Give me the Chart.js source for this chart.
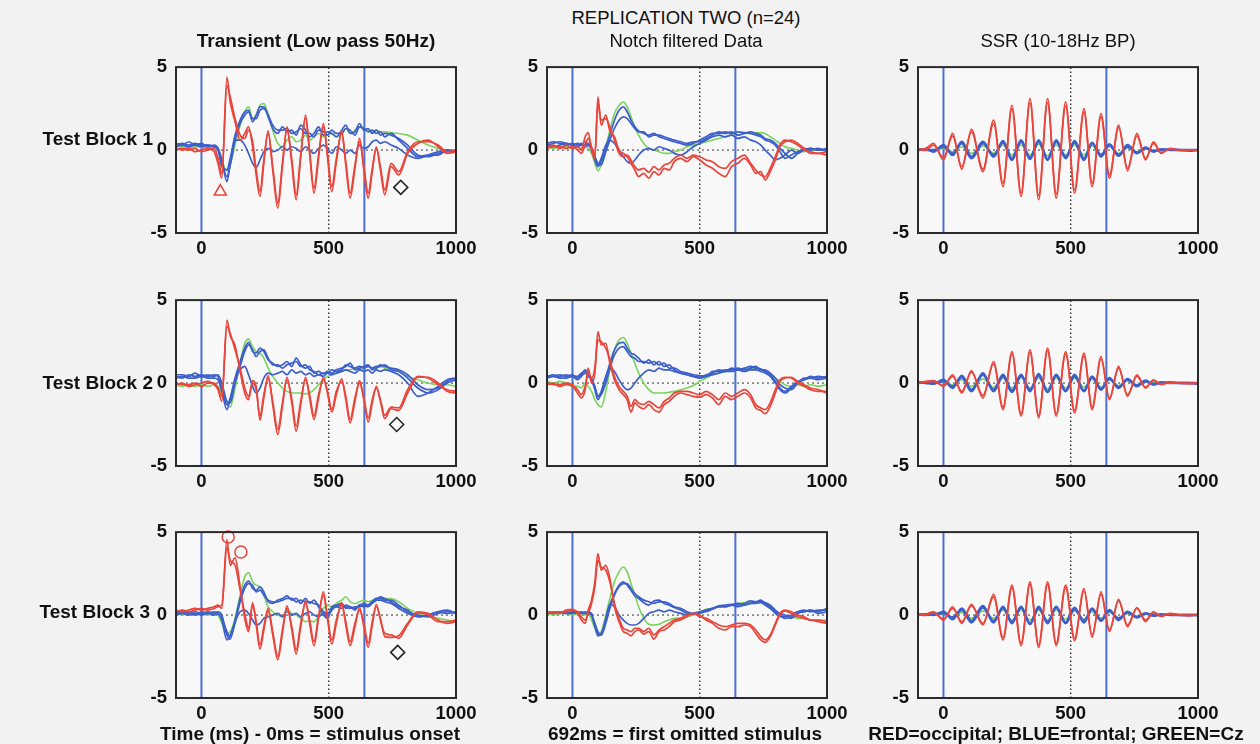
<!DOCTYPE html>
<html>
<head>
<meta charset="utf-8">
<script src="https://cdn.jsdelivr.net/npm/chart.js@4.4.1/dist/chart.umd.min.js"></script>
<style>
  body { margin: 0; background: #f2f2f2; width: 1260px; height: 744px; position: relative; overflow: hidden;
         font-family: "Liberation Sans", Arial, sans-serif; color: #111; }
  .lbl { position: absolute; white-space: nowrap; font-size: 19px; line-height: 19px; z-index: 2; }
  .t { font-size: 18.5px; }
  .b { font-weight: bold; }
  .c { transform: translateX(-50%); }
  canvas { position: absolute; z-index: 1; }
</style>
</head>
<body>
<div class="lbl c t" style="left:686px;top:8px">REPLICATION TWO (n=24)</div>
<div class="lbl c b" style="left:316px;top:31px">Transient (Low pass 50Hz)</div>
<div class="lbl c t" style="left:686px;top:31px">Notch filtered Data</div>
<div class="lbl c t" style="left:1058px;top:31px">SSR (10-18Hz BP)</div>
<div class="lbl b" style="right:1107px;top:129px">Test Block 1</div>
<div class="lbl b" style="right:1107px;top:373px">Test Block 2</div>
<div class="lbl b" style="right:1110px;top:602px">Test Block 3</div>
<div class="lbl c b" style="left:310px;top:724px">Time (ms) - 0ms = stimulus onset</div>
<div class="lbl c b" style="left:685px;top:724px">692ms = first omitted stimulus</div>
<div class="lbl c b" style="left:1056px;top:724px">RED=occipital; BLUE=frontal; GREEN=Cz</div>

<script>
// axes
const xRange = [-100, 1000];
const yRange = [-5, 5];
const xTicks = [0, 500, 1000];
const yTicks = [-5, 0, 5];
const stimOnsets = [0, 640];
const midMark = 500;

// sample times (ms) per column
const tTrans = [-100,-75,-50,-25,0,25,50,65,80,100,
  113,132,152,170,185,201,215,230,245,262,
  280,300,318,336,355,372,390,409,425,442,
  460,479,495,512,530,551,567,584,603,621,
  638,655,671,687,703,720,745,775,810,850,
  890,930,965,1000];
const tNotch = [-100,-75,-50,-25,0,20,35,50,62,75,
  88,100,113,131,147,165,183,200,215,230,
  245,260,280,300,320,340,360,380,400,425,
  450,475,500,525,550,575,600,625,650,675,
  700,720,740,757,777,797,815,835,860,885,
  910,935,965,1000];
const tSsr = [-100,-70,-39,0,36,72,110,155,197,234,
  269,305,340,374,409,443,480,515,552,584,
  619,652,688,723,760,794,825,855,890,930,
  965,1000];

// ---- Test Block 1, transient
const b1TrRedA = [0.1,0.0,0.1,-0.1,0.0,0.1,-0.1,-0.8,-1.7,4.4,
  2.9,1.7,0.6,1.0,1.4,0.2,-1.5,-2.8,-0.8,1.15,
  -1.2,-3.5,-1.0,1.4,-0.8,-3.0,-0.4,2.1,-0.2,-2.6,
  -0.5,1.6,-0.4,-2.5,-0.7,1.15,-0.9,-2.9,-1.1,0.7,
  -1.2,-2.9,-1.3,0.2,-1.2,-2.7,-1.0,-1.5,-0.2,0.4,
  0.6,0.2,-0.2,-0.1];
const b1TrRedB = [0.0,0.1,0.0,0.1,-0.1,0.0,0.1,-0.5,-1.4,3.9,
  3.2,1.9,0.9,0.7,1.2,0.5,-1.2,-2.5,-0.6,1.0,
  -1.0,-3.2,-0.8,1.2,-0.6,-2.7,-0.3,1.9,-0.1,-2.3,
  -0.3,1.4,-0.2,-2.2,-0.5,1.0,-0.7,-2.6,-0.9,0.5,
  -1.0,-2.6,-1.1,0.1,-1.0,-2.4,-0.8,-1.3,-0.1,0.5,
  0.5,0.3,-0.1,0.0];
const b1TrBlueA = [0.3,0.4,0.3,0.4,0.3,0.3,0.2,0.0,-1.0,-1.2,
  -0.5,0.9,1.8,2.3,2.4,1.7,2.1,2.6,2.6,2.0,
  1.3,1.0,1.4,1.1,1.2,0.9,1.5,1.2,0.8,1.0,
  1.4,0.9,1.1,1.0,0.8,1.2,1.5,1.0,1.1,1.6,
  1.2,1.3,1.0,1.2,0.9,1.0,0.9,0.7,0.3,-0.3,
  -0.4,-0.2,-0.1,0.0];
const b1TrBlueB = [0.4,0.3,0.5,0.3,0.4,0.2,0.3,0.1,-0.7,-1.6,
  -0.9,0.6,1.6,2.1,2.3,1.9,1.9,2.4,2.5,2.1,
  1.5,1.2,1.2,1.3,1.0,1.1,1.3,1.0,1.0,0.8,
  1.2,1.1,0.9,1.2,1.0,1.0,1.3,1.2,0.9,1.4,
  1.3,1.1,1.2,1.0,1.1,0.8,1.0,0.6,0.1,-0.4,
  -0.3,-0.3,0.0,-0.1];
const b1TrBlueC = [0.2,0.3,0.2,0.3,0.2,0.3,0.2,0.1,-0.6,-1.9,
  -0.8,0.6,0.6,0.3,-0.2,-0.8,-1.05,-0.6,-0.1,0.1,
  -0.1,0.0,0.2,0.0,0.2,0.1,-0.1,0.2,0.0,-0.2,
  0.1,0.3,0.1,-0.2,0.2,0.0,-0.2,0.0,-0.2,0.3,
  0.1,0.2,0.5,0.6,0.4,0.5,0.3,0.1,-0.3,-0.5,
  -0.3,-0.1,0.0,-0.1];
const b1TrGreen = [0.2,0.2,0.1,0.2,0.2,0.1,0.2,0.0,-0.6,-1.25,
  -0.9,0.3,1.5,2.3,2.6,1.9,2.1,2.7,2.8,2.2,
  1.2,0.4,0.2,0.6,0.8,0.5,0.6,0.9,0.6,0.8,
  1.0,0.8,0.9,1.0,0.8,1.0,1.3,1.0,1.2,1.4,
  1.3,1.2,1.1,1.2,1.1,1.1,1.05,1.0,0.9,0.6,
  0.3,0.1,0.0,0.0];

// ---- Test Block 2, transient
const b2TrRedA = [-0.1,0.0,-0.2,-0.1,0.0,0.1,-0.1,-0.4,-1.1,3.8,
  2.85,2.25,0.7,-0.6,-1.0,0.15,-0.2,-2.25,-0.9,0.45,
  -1.3,-3.1,-1.4,0.35,-1.2,-2.9,-1.3,0.35,-0.9,-2.2,
  -0.9,0.35,-0.6,-1.75,-0.7,0.25,-1.0,-2.4,-1.1,0.15,
  -1.0,-2.35,-1.2,-0.2,-1.1,-2.15,-1.55,-1.65,-0.6,0.35,
  0.35,0.0,-0.5,-0.6];
const b2TrRedB = [0.0,-0.1,-0.1,0.0,-0.2,0.0,0.0,-0.3,-0.8,3.4,
  3.0,2.0,0.9,-0.3,-0.8,0.0,-0.4,-2.0,-0.7,0.3,
  -1.1,-2.8,-1.2,0.2,-1.0,-2.6,-1.1,0.2,-0.7,-2.0,
  -0.7,0.2,-0.5,-1.6,-0.5,0.1,-0.8,-2.2,-0.9,0.0,
  -0.9,-2.1,-1.0,-0.3,-1.0,-1.95,-1.45,-1.5,-0.4,0.4,
  0.3,-0.1,-0.4,-0.5];
const b2TrBlueA = [0.4,0.3,0.5,0.4,0.5,0.4,0.5,0.4,-0.3,-1.3,
  -1.0,0.3,1.3,2.1,2.45,1.9,1.8,2.1,1.9,1.4,
  1.2,1.0,1.1,1.3,1.0,1.5,1.1,0.9,1.0,0.6,
  0.7,0.55,0.7,0.6,0.8,0.9,1.0,1.2,0.8,0.9,
  1.0,1.1,0.8,0.9,1.1,1.0,0.9,0.8,0.5,-0.1,
  -0.4,-0.3,0.1,0.3];
const b2TrBlueB = [0.5,0.5,0.4,0.6,0.4,0.5,0.4,0.5,0.0,-1.1,
  -1.2,0.0,1.0,1.9,2.3,2.0,1.6,1.9,2.0,1.5,
  1.1,1.1,0.9,1.1,1.2,1.3,1.0,1.1,0.8,0.7,
  0.5,0.6,0.6,0.8,0.7,0.8,1.1,1.0,0.9,1.0,
  0.9,1.0,0.9,1.0,1.0,1.1,0.8,0.7,0.3,-0.3,
  -0.6,-0.4,0.0,0.2];
const b2TrBlueC = [0.3,0.4,0.3,0.3,0.4,0.3,0.3,0.2,-0.5,-1.6,
  -0.9,0.2,0.8,1.0,0.5,-0.2,-0.6,-0.3,0.3,0.6,
  0.5,0.6,0.7,0.5,0.8,0.6,0.7,0.5,0.6,0.4,
  0.5,0.4,0.6,0.5,0.6,0.7,0.8,0.7,0.6,0.8,
  0.7,0.8,0.6,0.8,0.7,0.8,0.7,0.5,0.0,-0.8,
  -0.6,-0.2,0.2,0.3];
const b2TrGreen = [-0.1,-0.2,-0.1,-0.2,-0.1,-0.2,-0.1,-0.2,-0.6,-1.2,
  -1.45,-0.3,1.2,2.4,2.65,2.2,1.9,1.8,1.5,0.9,
  0.4,0.0,-0.3,-0.5,-0.6,-0.6,-0.6,-0.65,-0.6,-0.4,
  -0.1,0.2,0.4,0.5,0.6,0.7,0.8,0.8,0.9,0.8,
  0.9,1.0,0.9,0.9,1.0,0.9,0.8,0.7,0.4,0.2,
  0.0,-0.1,-0.1,-0.2];

// ---- Test Block 3, transient
const b3TrRedA = [0.3,0.2,0.3,0.4,0.3,0.4,0.5,0.6,0.4,4.55,
  3.0,3.45,1.7,-0.2,-1.0,0.75,-0.6,-2.05,-0.9,0.25,
  -1.2,-2.7,-1.1,0.55,-0.9,-2.35,-0.7,0.85,-0.5,-1.85,
  -0.2,1.4,-0.2,-1.75,-0.5,0.75,-0.6,-1.85,-0.7,0.45,
  -0.7,-1.95,-0.6,0.65,-0.3,-1.1,-1.2,-1.4,-0.6,0.15,
  0.0,-0.4,-0.4,-0.3];
const b3TrRedB = [0.2,0.3,0.2,0.3,0.4,0.3,0.4,0.5,0.6,4.1,
  3.3,3.0,1.5,0.1,-0.8,0.6,-0.4,-1.8,-0.7,0.4,
  -1.0,-2.5,-0.9,0.4,-0.7,-2.1,-0.5,0.7,-0.3,-1.6,
  -0.1,1.2,-0.1,-1.5,-0.3,0.6,-0.4,-1.6,-0.5,0.3,
  -0.5,-1.7,-0.4,0.5,-0.2,-1.3,-1.35,-1.25,-0.5,0.2,
  0.1,-0.3,-0.5,-0.4];
const b3TrBlueA = [0.1,0.2,0.1,0.2,0.1,0.2,0.1,0.2,0.0,-1.2,
  -1.45,-0.3,1.0,1.8,2.05,1.6,1.5,1.7,1.4,0.8,
  0.7,0.9,1.0,1.15,0.9,1.0,0.7,1.0,0.7,0.9,
  0.5,0.0,-0.2,0.5,0.6,0.7,0.4,0.5,0.3,0.6,
  0.5,0.6,0.8,1.0,1.0,0.9,0.9,0.6,0.2,0.0,
  -0.1,0.1,0.2,0.1];
const b3TrBlueB = [0.2,0.1,0.2,0.0,0.2,0.1,0.2,0.1,-0.2,-1.0,
  -1.3,-0.5,0.8,1.6,1.9,1.8,1.4,1.5,1.2,0.9,
  0.8,0.8,0.9,1.0,1.0,0.8,0.9,0.8,0.8,0.7,
  0.6,0.2,0.1,0.4,0.5,0.6,0.5,0.4,0.5,0.5,
  0.6,0.5,0.7,0.9,1.1,1.0,0.8,0.5,0.3,-0.1,
  0.0,0.2,0.1,0.2];
const b3TrBlueC = [0.0,0.1,0.0,0.1,0.0,0.1,0.0,0.1,-0.3,-1.5,
  -1.2,-0.4,0.2,0.3,0.1,-0.3,-0.6,-0.5,-0.2,-0.1,
  0.0,0.1,-0.1,0.2,0.0,0.1,-0.1,0.1,0.2,0.0,
  -0.1,0.1,-0.1,0.3,0.5,0.4,0.6,0.5,0.4,0.6,
  0.7,0.6,0.8,0.9,0.9,0.8,0.7,0.4,0.1,-0.1,
  0.0,0.2,0.3,0.1];
const b3TrGreen = [0.1,0.0,0.1,0.0,0.1,0.0,0.1,0.0,-0.5,-1.1,
  -1.0,-0.2,1.2,2.3,2.55,2.0,1.8,1.7,1.2,0.5,
  0.2,0.0,-0.1,0.3,0.1,0.0,-0.2,-0.4,-0.35,-0.4,
  -0.1,0.4,0.6,0.5,0.7,0.9,1.1,0.8,0.7,0.8,
  0.9,0.8,0.9,1.0,1.0,1.0,1.0,0.8,0.4,0.1,
  -0.1,-0.2,-0.3,-0.4];

// ---- Test Block 1, notch filtered
const b1NoRedA = [0.2,0.3,0.1,0.3,0.1,0.2,0.0,0.8,1.05,0.0,
  -0.5,3.2,1.5,2.1,1.15,0.8,0.0,-0.2,-0.4,-0.8,
  -1.2,-1.6,-1.4,-1.7,-1.3,-1.5,-1.1,-1.2,-0.7,-0.5,
  -0.7,-0.4,-0.6,-0.9,-1.1,-1.4,-1.6,-1.0,-0.8,-0.5,
  -0.9,-1.4,-1.3,-1.8,-1.3,-0.6,0.2,0.5,0.6,0.4,
  0.1,-0.2,-0.2,-0.3];
const b1NoRedB = [0.1,0.2,0.2,0.1,0.2,0.0,-0.2,0.3,0.7,0.2,
  -0.3,2.8,1.8,1.9,1.4,0.6,-0.2,-0.4,-0.3,-0.6,
  -1.0,-1.2,-1.1,-1.35,-1.0,-1.2,-0.9,-0.8,-0.5,-0.3,
  -0.5,-0.3,-0.4,-0.6,-0.7,-1.0,-1.1,-0.7,-0.5,-0.3,
  -0.8,-1.2,-1.5,-1.6,-1.1,-0.4,0.3,0.6,0.5,0.3,
  0.0,-0.1,-0.2,-0.1];
const b1NoBlueA = [0.4,0.5,0.4,0.3,0.4,0.3,0.4,0.3,0.4,0.0,
  -0.6,-1.0,-0.7,0.1,0.9,1.8,2.4,2.6,2.3,1.8,
  1.4,1.15,1.0,0.9,1.0,0.8,0.7,0.6,0.5,0.4,
  0.3,0.4,0.6,0.8,1.0,1.0,1.1,1.0,1.1,1.05,
  1.0,0.9,0.8,0.6,0.5,0.3,-0.1,-0.5,-0.3,-0.1,
  0.0,0.1,0.0,0.0];
const b1NoBlueB = [0.3,0.4,0.5,0.4,0.3,0.4,0.3,0.5,0.3,0.1,
  -0.4,-0.8,-0.9,-0.1,0.6,1.3,1.8,2.0,1.9,1.6,
  1.3,1.1,1.1,0.8,0.9,0.9,0.8,0.7,0.6,0.5,
  0.4,0.5,0.5,0.7,0.9,1.1,1.0,1.1,0.9,1.0,
  1.1,1.0,0.9,0.7,0.6,0.4,0.1,-0.2,-0.5,-0.2,
  0.1,0.0,0.1,-0.1];
const b1NoBlueC = [0.3,0.2,0.3,0.4,0.3,0.2,0.3,0.2,0.3,0.1,
  -0.4,-0.9,-0.5,0.3,0.6,0.4,0.0,-0.4,-0.7,-0.8,
  -0.6,-0.3,0.0,0.1,0.0,0.2,0.1,0.0,-0.2,-0.3,
  -0.1,0.2,0.4,0.6,0.8,0.9,0.8,0.9,0.7,0.8,
  0.6,0.5,0.3,0.0,-0.3,-0.6,-0.5,-0.3,0.0,-0.2,
  0.0,0.1,0.0,0.1];
const b1NoGreen = [0.2,0.1,0.2,0.2,0.1,0.2,0.1,0.2,0.1,-0.2,
  -0.8,-1.25,-0.9,0.2,1.2,2.2,2.7,2.9,2.6,2.0,
  1.4,0.9,0.4,0.1,0.0,-0.1,-0.2,-0.2,-0.1,0.0,
  0.2,0.3,0.4,0.5,0.6,0.7,0.8,0.9,0.9,1.0,
  1.0,1.05,1.05,1.0,0.8,0.6,0.4,0.2,0.1,0.0,
  -0.1,0.0,0.0,0.0];

// ---- Test Block 2, notch filtered
const b2NoRedA = [-0.1,0.0,-0.2,-0.1,-0.2,-0.6,-0.9,-0.4,0.9,0.0,
  0.6,3.1,2.3,2.4,1.2,0.2,-0.4,-0.7,-1.0,-1.75,
  -1.2,-1.4,-1.55,-1.3,-1.6,-1.75,-1.3,-1.1,-0.8,-0.6,
  -0.7,-0.8,-0.85,-0.7,-0.9,-1.3,-0.8,-1.0,-0.8,-0.6,
  -0.9,-1.5,-1.65,-1.85,-1.4,-0.6,0.1,0.3,0.35,0.1,
  -0.1,-0.3,-0.4,-0.6];
const b2NoRedB = [0.0,-0.1,-0.1,0.0,-0.1,-0.4,-0.7,-0.2,0.6,0.3,
  0.9,2.6,2.5,2.1,1.4,0.4,-0.2,-0.5,-0.8,-1.4,
  -1.0,-1.2,-1.3,-1.1,-1.3,-1.5,-1.1,-0.9,-0.6,-0.5,
  -0.5,-0.6,-0.7,-0.5,-0.7,-1.0,-0.6,-0.8,-0.6,-0.4,
  -0.7,-1.3,-1.5,-1.6,-1.2,-0.4,0.2,0.35,0.3,0.0,
  -0.2,-0.4,-0.5,-0.5];
const b2NoBlueA = [0.45,0.4,0.5,0.4,0.5,0.3,0.5,0.8,0.6,0.2,
  -0.4,-1.0,-0.6,0.3,1.2,2.0,2.4,2.45,2.1,1.8,
  1.7,1.5,1.2,1.4,1.1,1.3,1.0,1.1,0.8,0.6,
  0.5,0.4,0.35,0.5,0.6,0.8,0.7,0.9,0.8,0.9,
  1.0,0.9,0.85,0.7,0.5,0.1,-0.3,-0.5,-0.2,0.1,
  0.2,0.4,0.3,0.4];
const b2NoBlueB = [0.4,0.5,0.4,0.5,0.4,0.4,0.6,0.7,0.5,0.3,
  -0.2,-0.8,-0.7,0.0,0.9,1.7,2.1,2.2,1.9,1.6,
  1.5,1.3,1.3,1.2,1.3,1.1,1.2,0.9,0.9,0.7,
  0.6,0.5,0.45,0.4,0.7,0.7,0.8,0.8,0.9,0.8,
  0.9,1.0,0.8,0.8,0.6,0.3,-0.1,-0.3,-0.4,0.0,
  0.3,0.3,0.4,0.3];
const b2NoBlueC = [0.3,0.4,0.3,0.3,0.4,0.2,0.4,0.6,0.4,0.2,
  -0.3,-0.8,-0.5,0.4,0.9,0.7,0.2,-0.2,-0.4,-0.3,
  0.0,0.3,0.6,0.8,0.7,0.9,0.8,0.8,0.7,0.6,
  0.5,0.4,0.3,0.4,0.5,0.6,0.7,0.7,0.8,0.7,
  0.8,0.8,0.7,0.6,0.4,0.0,-0.4,-0.6,-0.3,0.0,
  0.2,0.3,0.2,0.3];
const b2NoGreen = [0.1,0.0,0.1,0.0,-0.2,-0.2,-0.3,0.0,-0.2,-0.5,
  -1.0,-1.3,-1.45,-0.5,0.8,2.0,2.6,2.75,2.4,1.8,
  1.2,0.6,0.0,-0.4,-0.6,-0.6,-0.6,-0.55,-0.5,-0.4,
  -0.3,-0.15,0.1,0.3,0.5,0.6,0.7,0.75,0.8,0.85,
  0.9,0.9,0.85,0.7,0.5,0.3,0.1,-0.1,-0.2,-0.1,
  -0.2,-0.1,-0.2,-0.1];

// ---- Test Block 3, notch filtered
const b3NoRedA = [0.1,0.2,0.1,0.3,0.35,0.1,-0.3,-0.5,0.3,0.9,
  2.0,3.7,2.7,3.0,2.2,0.5,-0.4,-1.0,-1.1,-1.25,
  -1.0,-0.9,-1.15,-1.0,-1.45,-1.0,-0.9,-0.7,-0.4,-0.3,
  -0.1,0.1,0.0,-0.3,-0.5,-0.8,-0.9,-0.7,-0.7,-0.6,
  -0.7,-1.1,-1.5,-1.65,-1.3,-0.6,0.0,0.25,0.1,-0.1,
  -0.2,-0.3,-0.4,-0.5];
const b3NoRedB = [0.2,0.1,0.2,0.2,0.3,0.2,-0.1,-0.3,0.1,0.7,
  1.7,3.3,2.9,2.7,2.0,0.7,-0.2,-0.8,-0.9,-1.0,
  -0.8,-0.8,-1.0,-0.8,-1.2,-0.9,-0.7,-0.5,-0.3,-0.2,
  0.0,0.1,-0.1,-0.2,-0.4,-0.6,-0.7,-0.6,-0.5,-0.5,
  -0.6,-0.9,-1.3,-1.5,-1.2,-0.5,0.1,0.3,0.2,0.0,
  -0.1,-0.3,-0.3,-0.4];
const b3NoBlueA = [0.15,0.2,0.1,0.2,0.15,0.1,0.2,0.1,0.2,0.1,
  -0.6,-1.25,-1.1,-0.3,0.6,1.3,1.8,2.0,1.8,1.5,
  1.15,1.0,0.75,0.6,0.85,0.9,0.7,0.6,0.45,0.3,
  0.1,0.05,0.1,0.3,0.4,0.55,0.6,0.65,0.6,0.7,
  0.85,0.8,0.9,0.7,0.5,0.2,0.0,-0.2,-0.1,0.2,
  0.3,0.2,0.3,0.3];
const b3NoBlueB = [0.2,0.1,0.2,0.1,0.2,0.2,0.1,0.2,0.1,0.0,
  -0.7,-1.1,-1.2,-0.5,0.4,1.2,1.7,1.9,1.9,1.6,
  1.3,1.1,0.9,0.8,0.7,0.8,0.8,0.7,0.5,0.4,
  0.2,0.1,0.15,0.2,0.35,0.5,0.5,0.6,0.7,0.6,
  0.7,0.8,0.8,0.75,0.6,0.3,0.1,0.0,-0.2,0.1,
  0.2,0.3,0.2,0.4];
const b3NoBlueC = [0.1,0.15,0.2,0.1,0.1,0.2,0.1,0.1,0.2,0.0,
  -0.5,-1.0,-1.2,-0.2,0.65,0.5,0.0,-0.3,-0.5,-0.6,
  -0.6,-0.5,-0.2,0.1,0.2,0.3,0.2,0.3,0.2,0.1,
  0.0,0.1,0.2,0.3,0.4,0.5,0.5,0.6,0.5,0.6,
  0.7,0.7,0.75,0.6,0.4,0.1,-0.1,-0.1,0.0,0.2,
  0.2,0.3,0.1,0.2];
const b3NoGreen = [0.1,0.0,0.1,0.1,0.0,0.1,0.1,0.0,0.1,-0.3,
  -0.8,-1.25,-1.0,0.0,1.0,2.0,2.6,2.9,2.6,1.9,
  1.2,0.5,-0.2,-0.55,-0.6,-0.55,-0.4,-0.3,-0.2,-0.2,
  -0.1,0.0,0.2,0.35,0.4,0.5,0.55,0.6,0.7,0.75,
  0.75,0.8,0.75,0.6,0.4,0.2,0.0,-0.1,-0.1,-0.2,
  -0.2,-0.3,-0.3,-0.3];

// ---- SSR (10-18Hz band pass)
const b1SsrRedA = [0.0,0.1,0.4,-0.6,1.0,-1.15,1.25,-1.3,1.8,-2.2,
  2.7,-2.8,3.1,-3.0,3.1,-2.9,2.9,-2.6,2.5,-2.2,
  2.2,-1.7,1.5,-1.25,1.0,-0.6,0.5,-0.2,0.1,0.0,
  0.0,0.0];
const b1SsrRedB = [0.05,0.0,0.3,-0.45,0.85,-1.0,1.1,-1.15,1.6,-2.0,
  2.5,-2.6,2.85,-2.75,2.85,-2.65,2.65,-2.4,2.3,-2.0,
  2.0,-1.5,1.35,-1.1,0.85,-0.5,0.4,-0.15,0.05,0.0,
  0.0,0.0];
const b1SsrBlueA = [0.0,0.05,-0.1,0.3,-0.3,0.5,-0.4,0.5,-0.4,0.55,
  -0.5,0.6,-0.55,0.6,-0.55,0.6,-0.5,0.55,-0.5,0.45,
  -0.4,0.35,-0.3,0.3,-0.2,0.15,-0.1,0.05,0.0,0.0,
  0.0,0.0];
const b1SsrBlueB = [0.05,0.0,0.0,0.2,-0.2,0.4,-0.5,0.4,-0.3,0.45,
  -0.6,0.5,-0.45,0.5,-0.6,0.5,-0.4,0.45,-0.6,0.4,
  -0.3,0.3,-0.35,0.2,-0.15,0.1,-0.05,0.0,0.05,0.0,
  -0.05,0.0];
const b1SsrGreen = [0.0,0.0,0.0,0.1,-0.1,0.2,-0.2,0.25,-0.2,0.3,
  -0.3,0.3,-0.3,0.35,-0.35,0.3,-0.3,0.3,-0.3,0.25,
  -0.25,0.2,-0.2,0.15,-0.1,0.1,-0.05,0.0,0.0,0.0,
  0.0,0.0];

const b2SsrRedA = [0.0,0.1,0.15,-0.2,0.5,-0.6,0.75,-0.9,1.3,-1.6,
  1.9,-2.0,2.0,-2.1,2.1,-2.0,1.9,-1.8,1.8,-1.6,
  1.6,-1.0,1.0,-0.8,0.5,-0.3,0.2,-0.1,0.05,0.0,
  -0.05,0.0];
const b2SsrRedB = [0.0,0.05,0.1,-0.15,0.4,-0.5,0.65,-0.75,1.15,-1.45,
  1.75,-1.85,1.85,-1.95,1.95,-1.85,1.75,-1.65,1.65,-1.45,
  1.45,-0.9,0.9,-0.7,0.4,-0.25,0.15,-0.05,0.0,0.0,
  0.0,0.0];
const b2SsrBlueA = [0.05,0.0,-0.05,0.2,-0.3,0.45,-0.4,0.5,-0.4,0.5,
  -0.45,0.5,-0.5,0.55,-0.5,0.5,-0.45,0.5,-0.45,0.4,
  -0.4,0.3,-0.3,0.25,-0.2,0.15,-0.1,0.05,0.0,0.0,
  0.0,0.0];
const b2SsrBlueB = [0.0,0.05,0.0,0.1,-0.2,0.35,-0.5,0.6,-0.5,0.4,
  -0.55,0.4,-0.4,0.45,-0.55,0.45,-0.5,0.4,-0.5,0.35,
  -0.35,0.25,-0.25,0.2,-0.15,0.1,-0.05,0.0,0.05,0.0,
  0.0,-0.05];
const b2SsrGreen = [0.0,0.0,0.0,0.05,-0.1,0.2,-0.2,0.25,-0.25,0.3,
  -0.3,0.35,-0.3,0.3,-0.35,0.3,-0.3,0.3,-0.25,0.25,
  -0.25,0.2,-0.15,0.15,-0.1,0.05,0.0,0.0,0.0,0.0,
  0.0,0.0];

const b3SsrRedA = [0.0,0.05,0.2,-0.3,0.5,-0.5,0.65,-0.6,1.25,-1.5,
  1.8,-1.85,2.0,-1.95,2.0,-1.85,1.8,-1.55,1.6,-1.35,
  1.4,-1.0,0.95,-0.7,0.45,-0.4,0.2,-0.1,0.1,0.0,
  -0.05,0.05];
const b3SsrRedB = [0.0,0.0,0.15,-0.25,0.4,-0.4,0.55,-0.5,1.1,-1.35,
  1.65,-1.7,1.85,-1.8,1.85,-1.7,1.65,-1.4,1.45,-1.2,
  1.25,-0.9,0.85,-0.6,0.4,-0.3,0.15,-0.05,0.05,0.0,
  0.0,0.0];
const b3SsrBlueA = [0.0,0.05,0.0,0.2,-0.25,0.4,-0.35,0.55,-0.45,0.5,
  -0.5,0.5,-0.5,0.5,-0.5,0.5,-0.45,0.45,-0.45,0.4,
  -0.35,0.3,-0.3,0.2,-0.15,0.1,-0.05,0.05,0.0,0.0,
  0.0,0.0];
const b3SsrBlueB = [0.05,0.0,0.05,0.1,-0.15,0.3,-0.45,0.45,-0.35,0.4,
  -0.4,0.45,-0.55,0.4,-0.4,0.45,-0.5,0.35,-0.35,0.35,
  -0.3,0.25,-0.2,0.15,-0.1,0.1,0.0,0.0,0.05,0.0,
  0.0,0.0];
const b3SsrGreen = [0.0,0.0,0.0,0.05,-0.1,0.15,-0.2,0.25,-0.2,0.3,
  -0.3,0.3,-0.3,0.3,-0.3,0.3,-0.25,0.25,-0.25,0.2,
  -0.2,0.15,-0.15,0.1,-0.1,0.05,0.0,0.0,0.0,0.0,
  0.0,0.0];

// annotation symbols (transient column)
const triangleT = [74], triangleV = [-2.5];
const diamondT = [783, 767, 771], diamondV = [-2.25, -2.5, -2.25];
const circleT = [105, 155], circleV = [4.7, 3.8];

const RED = '#e8463c', BLUE = '#3d5fcb', GREEN = '#7ad35c', STIM = '#4a70d6';
const FONT = '"Liberation Sans", Arial, sans-serif';
Chart.defaults.font.family = FONT;

const colLeft = [176, 547, 918];
const rowTop = [59, 292, 524];

const panels = [
  { r: 0, c: 0, t: tTrans, red: [b1TrRedA, b1TrRedB], blue: [b1TrBlueA, b1TrBlueB, b1TrBlueC], green: [b1TrGreen],
    marks: [{ t: triangleT, v: triangleV, style: 'triangle', color: RED, r: 7 }, { t: diamondT.slice(0, 1), v: diamondV.slice(0, 1), style: 'rectRot', color: '#222', r: 7 }] },
  { r: 1, c: 0, t: tTrans, red: [b2TrRedA, b2TrRedB], blue: [b2TrBlueA, b2TrBlueB, b2TrBlueC], green: [b2TrGreen],
    marks: [{ t: diamondT.slice(1, 2), v: diamondV.slice(1, 2), style: 'rectRot', color: '#222', r: 7 }] },
  { r: 2, c: 0, t: tTrans, red: [b3TrRedA, b3TrRedB], blue: [b3TrBlueA, b3TrBlueB, b3TrBlueC], green: [b3TrGreen],
    marks: [{ t: circleT, v: circleV, style: 'circle', color: RED, r: 6 }, { t: diamondT.slice(2, 3), v: diamondV.slice(2, 3), style: 'rectRot', color: '#222', r: 7 }] },
  { r: 0, c: 1, t: tNotch, red: [b1NoRedA, b1NoRedB], blue: [b1NoBlueA, b1NoBlueB, b1NoBlueC], green: [b1NoGreen], marks: [] },
  { r: 1, c: 1, t: tNotch, red: [b2NoRedA, b2NoRedB], blue: [b2NoBlueA, b2NoBlueB, b2NoBlueC], green: [b2NoGreen], marks: [] },
  { r: 2, c: 1, t: tNotch, red: [b3NoRedA, b3NoRedB], blue: [b3NoBlueA, b3NoBlueB, b3NoBlueC], green: [b3NoGreen], marks: [] },
  { r: 0, c: 2, t: tSsr, red: [b1SsrRedA, b1SsrRedB], blue: [b1SsrBlueA, b1SsrBlueB], green: [b1SsrGreen], marks: [], ssr: true },
  { r: 1, c: 2, t: tSsr, red: [b2SsrRedA, b2SsrRedB], blue: [b2SsrBlueA, b2SsrBlueB], green: [b2SsrGreen], marks: [], ssr: true },
  { r: 2, c: 2, t: tSsr, red: [b3SsrRedA, b3SsrRedB], blue: [b3SsrBlueA, b3SsrBlueB], green: [b3SsrGreen], marks: [], ssr: true },
];

function pts(times, vals) {
  return times.map((t, i) => ({ x: t, y: vals[i] }));
}

function trace(times, vals, color, order, width) {
  return { data: pts(times, vals), borderColor: color, borderWidth: width, pointRadius: 0,
           cubicInterpolationMode: 'monotone', order: order };
}

// plot frame and background
const framePlugin = {
  id: 'frame',
  beforeDraw(chart) {
    const { ctx, chartArea: a } = chart;
    ctx.save();
    ctx.fillStyle = '#f8f8f8';
    ctx.fillRect(a.left, a.top, a.width, a.height);
    ctx.restore();
  },
  afterDraw(chart) {
    const { ctx, chartArea: a } = chart;
    ctx.save();
    ctx.strokeStyle = '#2b2b2b';
    ctx.lineWidth = 2;
    ctx.strokeRect(a.left, a.top, a.width, a.height);
    ctx.restore();
  }
};

panels.forEach(p => {
  const cv = document.createElement('canvas');
  cv.width = 360; cv.height = 216;
  cv.style.left = (colLeft[p.c] - 50) + 'px';
  cv.style.top = (rowTop[p.r] - 12) + 'px';
  document.body.appendChild(cv);

  const ds = [];
  stimOnsets.forEach(s => ds.push({ data: [{ x: s, y: yRange[0] }, { x: s, y: yRange[1] }],
    borderColor: STIM, borderWidth: 2, pointRadius: 0, order: 20 }));
  ds.push({ data: [{ x: midMark, y: yRange[0] }, { x: midMark, y: yRange[1] }],
    borderColor: '#222', borderWidth: 1.3, borderDash: [1.5, 2.5], pointRadius: 0, order: 21 });
  ds.push({ data: [{ x: xRange[0], y: 0 }, { x: xRange[1], y: 0 }],
    borderColor: '#333', borderWidth: 1, borderDash: [2, 3], pointRadius: 0, order: 21 });

  p.green.forEach(v => ds.push(trace(p.t, v, GREEN, 4, 1.6)));
  p.blue.forEach(v => ds.push(trace(p.t, v, BLUE, 3, p.ssr ? 2.4 : 1.7)));
  p.red.forEach(v => ds.push(trace(p.t, v, RED, 1, 1.7)));
  p.marks.forEach(m => ds.push({ data: pts(m.t, m.v), showLine: false, pointStyle: m.style,
    pointRadius: m.r, pointBorderColor: m.color, pointBackgroundColor: 'rgba(0,0,0,0)',
    pointBorderWidth: 1.5, borderColor: m.color, order: 0, clip: false }));

  new Chart(cv, {
    type: 'line',
    data: { datasets: ds },
    options: {
      responsive: false,
      animation: false,
      events: [],
      layout: { padding: { top: 12, right: 30, left: 0, bottom: 0 } },
      plugins: { legend: { display: false }, tooltip: { enabled: false } },
      scales: {
        x: {
          type: 'linear', min: xRange[0], max: xRange[1],
          afterBuildTicks: s => { s.ticks = xTicks.map(v => ({ value: v })); },
          afterFit: s => { s.height = 30; },
          grid: { display: false, drawTicks: false },
          border: { display: false },
          ticks: { color: '#111', font: { size: 18.5, weight: 'bold' }, padding: 5,
                   maxRotation: 0, autoSkip: false, callback: v => String(v) }
        },
        y: {
          min: yRange[0], max: yRange[1],
          afterBuildTicks: s => { s.ticks = yTicks.map(v => ({ value: v })); },
          afterFit: s => { s.width = 50; },
          grid: { display: false, drawTicks: false },
          border: { display: false },
          ticks: { color: '#111', font: { size: 18.5, weight: 'bold' }, padding: 9,
                   callback: v => String(v) }
        }
      }
    },
    plugins: [framePlugin]
  });
});
</script>
</body>
</html>
